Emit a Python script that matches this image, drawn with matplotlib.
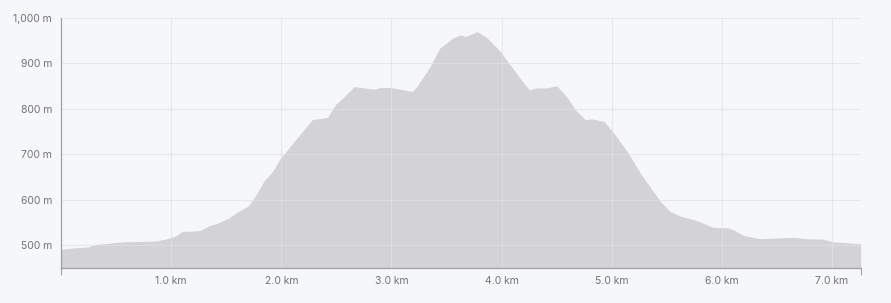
import numpy as np
import matplotlib
matplotlib.use('Agg')
import matplotlib.pyplot as plt
from matplotlib.ticker import FuncFormatter

# elevation profile (distance in km, elevation in m)
distance_km = [0.00, 0.13, 0.25, 0.30, 0.56, 0.86, 0.95, 1.04, 1.10, 1.22,
               1.27, 1.34, 1.43, 1.52, 1.61, 1.70, 1.77, 1.84, 1.92, 1.99,
               2.02, 2.14, 2.28, 2.42, 2.49, 2.56, 2.66, 2.73, 2.84, 2.90,
               2.99, 3.11, 3.19, 3.23, 3.35, 3.44, 3.56, 3.63, 3.67, 3.78,
               3.87, 3.99, 4.11, 4.25, 4.32, 4.41, 4.50, 4.59, 4.67, 4.76,
               4.82, 4.93, 5.02, 5.14, 5.26, 5.41, 5.44, 5.53, 5.62, 5.77,
               5.92, 6.05, 6.11, 6.20, 6.35, 6.53, 6.65, 6.77, 6.92, 7.01,
               7.26]
elevation_m = [491, 494, 496, 501, 507, 509, 513, 520, 530, 531,
               533, 542, 549, 559, 574, 586, 610, 640, 662, 691,
               699, 735, 776, 781, 809, 824, 849, 847, 843, 847,
               847, 842, 838, 849, 893, 934, 956, 963, 959, 970,
               956, 926, 886, 842, 846, 846, 851, 827, 798, 776,
               778, 772, 746, 706, 658, 607, 596, 574, 564, 554,
               539, 538, 533, 521, 514, 516, 517, 514, 513, 507,
               503]

x_ticks = [1, 2, 3, 4, 5, 6, 7]
y_ticks = [500, 600, 700, 800, 900, 1000]
x_max = 7.263
y_min, y_max = 449.5, 1000

bg = '#f6f7f9'
fill_col = '#d3d3d5'
grid_col = '#e2e2e5'
label_col = '#737373'
axis_col = '#a0a0a4'

plt.rcParams['font.family'] = ['Inter', 'DejaVu Sans']

fig = plt.figure(figsize=(8.91, 3.03), dpi=100, facecolor=bg)
ax = fig.add_axes([61 / 891, 1 - 268 / 303, 800 / 891, 250 / 303])
ax.set_facecolor(bg)

ax.fill_between(distance_km, elevation_m, y_min, color=fill_col, lw=0, zorder=1)

ax.set_xlim(0, x_max)
ax.set_ylim(y_min, y_max)

ax.set_xticks(x_ticks)
ax.set_yticks(y_ticks)
ax.xaxis.set_major_formatter(FuncFormatter(lambda v, p: f'{v:.1f} km'))
ax.yaxis.set_major_formatter(FuncFormatter(lambda v, p: f'{int(v):,} m'))
ax.tick_params(axis='both', length=0, labelsize=7.5, labelcolor=label_col)
ax.tick_params(axis='x', pad=6)
ax.tick_params(axis='y', pad=6.5)

# small end ticks like the original
ax.set_xticks([0, x_max], minor=True)
ax.set_yticks([y_max], minor=True)
ax.tick_params(which='minor', length=5, width=0.8, color=axis_col, direction='out')

ax.grid(True, color=grid_col, lw=0.8, alpha=0.7, zorder=2)
ax.set_axisbelow(False)

for s in ['top', 'right']:
    ax.spines[s].set_visible(False)
for s in ['left', 'bottom']:
    ax.spines[s].set_color(axis_col)
    ax.spines[s].set_linewidth(0.9)
    ax.spines[s].set_zorder(3)

fig.savefig('out.png', dpi=100, facecolor=bg)
